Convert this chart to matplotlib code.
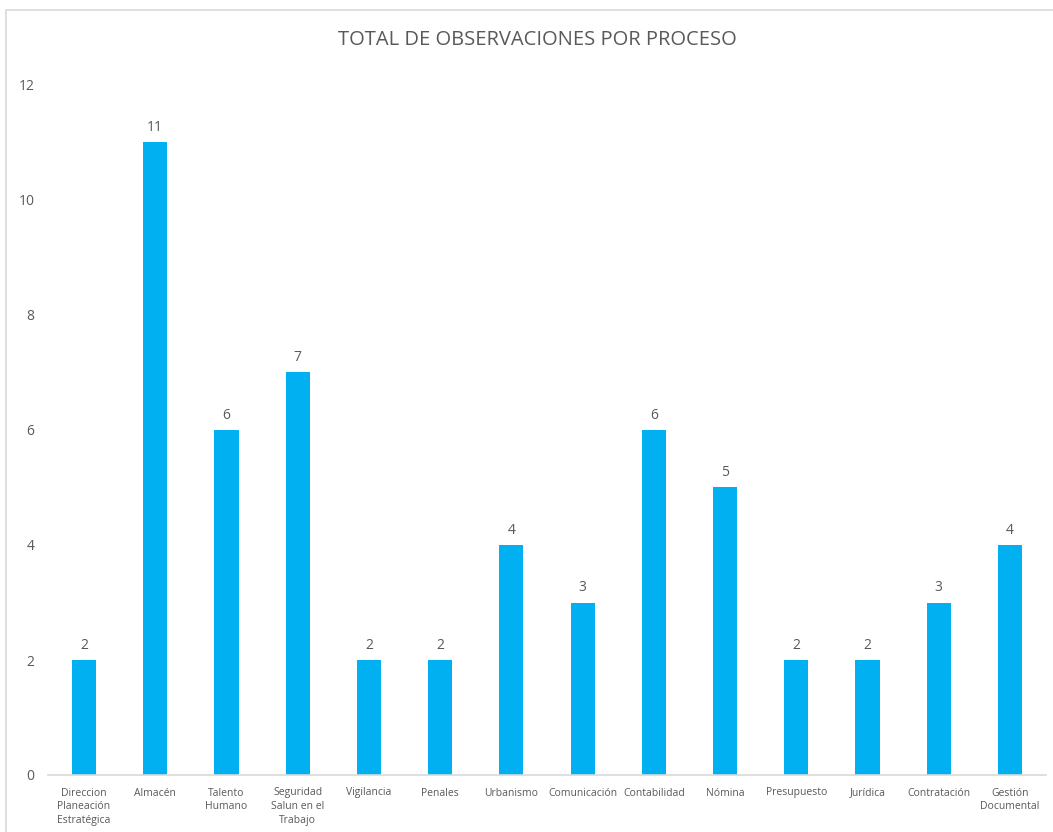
import numpy as np
import matplotlib.pyplot as plt
from matplotlib.patches import Rectangle

categories = ["Direccion\nPlaneación\nEstratégica", "Almacén", "Talento\nHumano",
              "Seguridad\nSalun en el\nTrabajo", "Vigilancia", "Penales", "Urbanismo",
              "Comunicación", "Contabilidad", "Nómina", "Presupuesto", "Jurídica",
              "Contratación", "Gestión\nDocumental"]
values = [2, 11, 6, 7, 2, 2, 4, 3, 6, 5, 2, 2, 3, 4]
yticks = [0, 2, 4, 6, 8, 10, 12]

plt.rcParams['font.family'] = ['Open Sans', 'DejaVu Sans']
grey = "#595959"

fig = plt.figure(figsize=(10.53, 8.32), dpi=100)
# chart frame, cut off at right and bottom like the screenshot
fig.patches.append(Rectangle((6 / 1053, -0.05), 1.0, 1.05 - 10 / 832, transform=fig.transFigure,
                             fill=False, edgecolor="#d9d9d9", linewidth=1.2))

ax = fig.add_axes([48.4 / 1053, 1 - 775 / 832, (1045.6 - 48.4) / 1053, (775 - 85) / 832])
x = np.arange(len(categories))
bars = ax.bar(x, values, width=0.34, color="#00B0F0")
for xi, v in zip(x, values):
    ax.text(xi, v + 0.13, str(v), ha="center", va="bottom", fontsize=10, color=grey)

ax.set_xlim(-0.5, len(categories) - 0.5)
ax.set_ylim(0, 12)
ax.set_yticks(yticks)
ax.set_yticklabels([str(t) for t in yticks], fontsize=10, color=grey)
ax.set_xticks(x)
ax.set_xticklabels(categories, fontsize=7.5, color=grey, linespacing=1.35)
ax.tick_params(axis="both", length=0)
ax.tick_params(axis="y", pad=10)
ax.tick_params(axis="x", pad=9)
for s in ["top", "right", "left"]:
    ax.spines[s].set_visible(False)
ax.spines["bottom"].set_color("#d9d9d9")
ax.spines["bottom"].set_linewidth(1.2)

fig.text(537 / 1053, 1 - 40 / 832, "TOTAL DE OBSERVACIONES POR PROCESO", ha="center", va="center",
         fontsize=14.5, color=grey)

fig.savefig("out.png", dpi=100)
